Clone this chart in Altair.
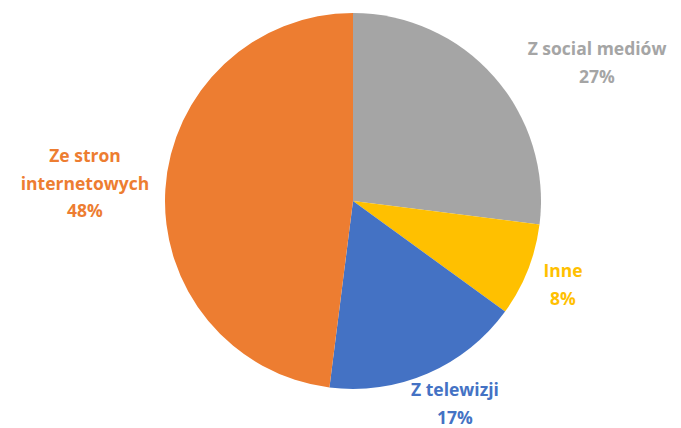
import altair as alt
import pandas as pd

categories = ["Z social mediów", "Inne", "Z telewizji", "Ze stron internetowych"]
values = [27, 8, 17, 48]
colors = ["#A5A5A5", "#FFC000", "#4472C4", "#ED7D31"]

df = pd.DataFrame({"cat": categories, "val": values, "order": [0, 1, 2, 3]})

cx, cy, r = 345, 193, 188

pie = alt.Chart(df).mark_arc(stroke=None).encode(
    theta=alt.Theta("val:Q", stack=True),
    order=alt.Order("order:Q"),
    color=alt.Color("cat:N", scale=alt.Scale(domain=categories, range=colors), legend=None),
    x=alt.value(cx), y=alt.value(cy), radius=alt.value(r),
)

label_lines = [
    (["Z social mediów", "27%"], colors[0], 589, 42),
    (["Inne", "8%"], colors[1], 555, 264),
    (["Z telewizji", "17%"], colors[2], 447, 383),
    (["Ze stron", "internetowych", "48%"], colors[3], 77, 149),
]

layers = [pie]
for lines, col, x, y in label_lines:
    ldf = pd.DataFrame({"t": [lines]})
    layers.append(
        alt.Chart(ldf).mark_text(
            font="Open Sans", fontWeight="bold", fontSize=17.5, color=col,
            align="center", baseline="middle", lineHeight=27.5,
        ).encode(text="t", x=alt.value(x), y=alt.value(y))
    )

chart = alt.layer(*layers).properties(
    width=665, height=420, padding=0, autosize="none"
).configure_view(strokeWidth=0)

chart.save("out.html", embed_options={"renderer": "svg", "actions": False})
